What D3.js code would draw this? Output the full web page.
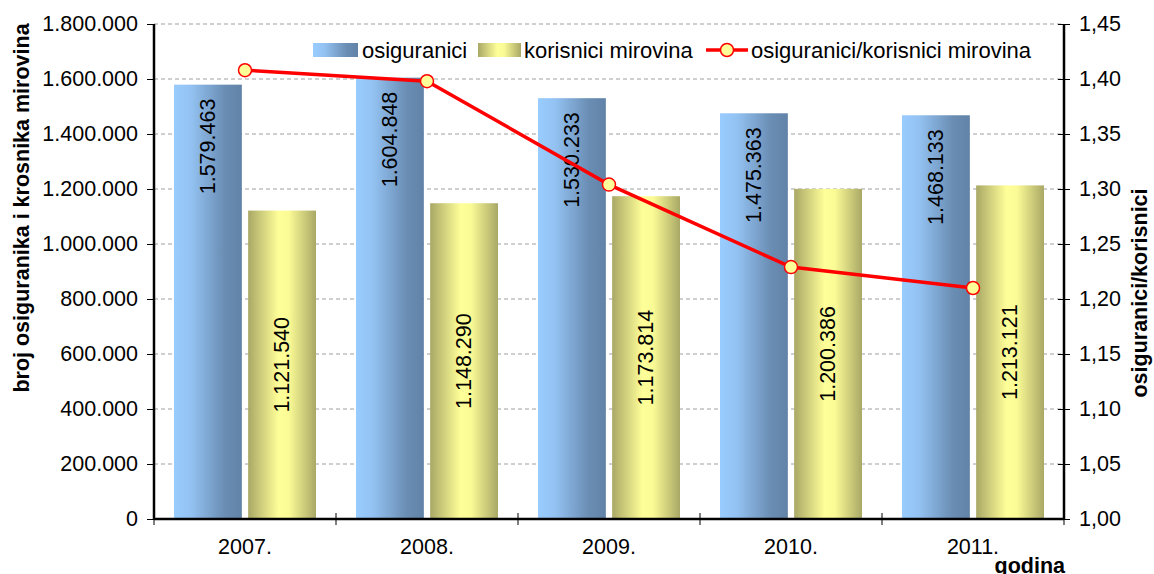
<!DOCTYPE html>
<html>
<head>
<meta charset="utf-8">
<script src="https://cdn.jsdelivr.net/npm/d3@7"></script>
<style>
  body { margin: 0; background: #fff; }
  text { font-family: "Liberation Sans", Arial, sans-serif; }
</style>
</head>
<body>
<div id="chart"></div>
<script>
  const years = ["2007.", "2008.", "2009.", "2010.", "2011."];
  const osiguranici = [1579463, 1604848, 1530233, 1475363, 1468133];
  const korisnici = [1121540, 1148290, 1173814, 1200386, 1213121];
  const omjer = [1.408, 1.398, 1.304, 1.229, 1.210];
  const seriesNames = ["osiguranici", "korisnici mirovina", "osiguranici/korisnici mirovina"];
  const leftTicks = [0, 200000, 400000, 600000, 800000, 1000000, 1200000, 1400000, 1600000, 1800000];
  const rightTicks = [1.00, 1.05, 1.10, 1.15, 1.20, 1.25, 1.30, 1.35, 1.40, 1.45];

  const hr = d3.formatLocale({ decimal: ",", thousands: ".", grouping: [3], currency: ["", ""] });
  const fmtInt = hr.format(",.0f");
  const fmtDec = hr.format(".2f");

  const svg = d3.select("#chart")
    .append("svg")
    .attr("width", 1154)
    .attr("height", 574);

  const margin = { top: 24, right: 90, bottom: 55, left: 154 };
  const width = 1154 - margin.left - margin.right;
  const height = 574 - margin.top - margin.bottom;

  // gradients
  const defs = svg.append("defs");
  const gBlue = defs.append("linearGradient").attr("id", "gBlue");
  gBlue.append("stop").attr("offset", "0%").attr("stop-color", "#99ccff");
  gBlue.append("stop").attr("offset", "25%").attr("stop-color", "#93c2f2");
  gBlue.append("stop").attr("offset", "75%").attr("stop-color", "#6a8db3");
  gBlue.append("stop").attr("offset", "100%").attr("stop-color", "#6283a8");
  const gOlive = defs.append("linearGradient").attr("id", "gOlive");
  gOlive.append("stop").attr("offset", "0%").attr("stop-color", "#a9a866");
  gOlive.append("stop").attr("offset", "45%").attr("stop-color", "#ffff99");
  gOlive.append("stop").attr("offset", "60%").attr("stop-color", "#fbfb96");
  gOlive.append("stop").attr("offset", "100%").attr("stop-color", "#a9a866");

  // scales
  const x0 = d3.scaleBand().domain(years).range([0, width]);
  const x1 = d3.scaleBand().domain([0, 1]).range([20, x0.bandwidth() - 20]).paddingInner(0.085);
  const yLeft = d3.scaleLinear().domain([0, 1800000]).range([height, 0]);
  const yRight = d3.scaleLinear().domain([1.00, 1.45]).range([height, 0]);

  const g = svg.append("g").attr("transform", `translate(${margin.left}, ${margin.top})`);

  // grid
  g.append("g")
    .selectAll("line")
    .data(leftTicks.filter(d => d > 0))
    .enter()
    .append("line")
    .attr("x1", 0)
    .attr("x2", width)
    .attr("y1", d => yLeft(d))
    .attr("y2", d => yLeft(d))
    .attr("stroke", "#a0a0a0")
    .attr("stroke-width", 1)
    .attr("stroke-dasharray", "4,3");

  // bars
  const groups = g.append("g")
    .selectAll("g")
    .data(years)
    .enter()
    .append("g")
    .attr("transform", d => `translate(${x0(d)}, 0)`);

  groups.append("rect")
    .attr("x", x1(0))
    .attr("width", x1.bandwidth())
    .attr("y", (d, i) => yLeft(osiguranici[i]))
    .attr("height", (d, i) => height - yLeft(osiguranici[i]))
    .attr("fill", "url(#gBlue)");

  groups.append("rect")
    .attr("x", x1(1))
    .attr("width", x1.bandwidth())
    .attr("y", (d, i) => yLeft(korisnici[i]))
    .attr("height", (d, i) => height - yLeft(korisnici[i]))
    .attr("fill", "url(#gOlive)");

  // bar labels
  groups.append("text")
    .attr("transform", (d, i) => `translate(${x1(0) + x1.bandwidth() / 2}, ${yLeft(osiguranici[i]) + 14}) rotate(-90)`)
    .attr("text-anchor", "end")
    .attr("dominant-baseline", "central")
    .attr("font-size", 21.5)
    .text((d, i) => fmtInt(osiguranici[i]));

  groups.append("text")
    .attr("transform", (d, i) => `translate(${x1(1) + x1.bandwidth() / 2}, ${(yLeft(korisnici[i]) + height) / 2}) rotate(-90)`)
    .attr("text-anchor", "middle")
    .attr("dominant-baseline", "central")
    .attr("font-size", 21.5)
    .text((d, i) => fmtInt(korisnici[i]));

  // axes
  const axL = g.append("g")
    .call(d3.axisLeft(yLeft).tickValues(leftTicks).tickFormat(fmtInt).tickSize(7).tickPadding(9));
  const axR = g.append("g")
    .attr("transform", `translate(${width}, 0)`)
    .call(d3.axisRight(yRight).tickValues(rightTicks).tickFormat(fmtDec).tickSize(6).tickPadding(9));
  axR.selectAll(".tick line").attr("x1", -6);
  const axB = g.append("g")
    .attr("transform", `translate(0, ${height})`)
    .call(d3.axisBottom(x0).tickSize(0).tickPadding(20));
  // category boundary ticks
  axB.selectAll(".bound")
    .data(years.slice(1))
    .enter()
    .append("line")
    .attr("x1", d => x0(d))
    .attr("x2", d => x0(d))
    .attr("y1", -6)
    .attr("y2", 6)
    .attr("stroke", "#000");
  axB.append("line").attr("x1", 0).attr("x2", 0).attr("y1", 0).attr("y2", 6).attr("stroke", "#000");
  axB.append("line").attr("x1", width).attr("x2", width).attr("y1", 0).attr("y2", 6).attr("stroke", "#000");

  [axL, axR, axB].forEach(a => {
    a.selectAll("path.domain").attr("stroke", "#000").attr("stroke-width", 2.5);
    a.selectAll("text").attr("font-size", 21.5).attr("fill", "#000").attr("font-family", "Liberation Sans, Arial, sans-serif");
    a.selectAll(".tick line").attr("stroke", "#000");
  });
  axB.select("path.domain").attr("d", `M0,0H${width}`);
  axL.select("path.domain").attr("d", `M0,0V${height}`);
  axR.select("path.domain").attr("d", `M0,0V${height}`);

  // ratio line
  const line = d3.line()
    .x((d, i) => x0(years[i]) + x0.bandwidth() / 2)
    .y(d => yRight(d));

  g.append("path")
    .datum(omjer)
    .attr("d", line)
    .attr("fill", "none")
    .attr("stroke", "#ff0000")
    .attr("stroke-width", 3.5);

  g.append("g")
    .selectAll("circle")
    .data(omjer)
    .enter()
    .append("circle")
    .attr("cx", (d, i) => x0(years[i]) + x0.bandwidth() / 2)
    .attr("cy", d => yRight(d))
    .attr("r", 6.5)
    .attr("fill", "#ffff99")
    .attr("stroke", "#ff0000")
    .attr("stroke-width", 1.5);

  // axis titles
  svg.append("text")
    .attr("transform", "translate(22, 208) rotate(-90)")
    .attr("text-anchor", "middle")
    .attr("dominant-baseline", "central")
    .attr("font-size", 21.5)
    .attr("font-weight", "bold")
    .text("broj osiguranika i krosnika mirovina");

  svg.append("text")
    .attr("transform", "translate(1140, 293) rotate(-90)")
    .attr("text-anchor", "middle")
    .attr("dominant-baseline", "central")
    .attr("font-size", 21.5)
    .attr("font-weight", "bold")
    .text("osiguranici/korisnici");

  svg.append("text")
    .attr("x", 1065)
    .attr("y", 573)
    .attr("text-anchor", "end")
    .attr("font-size", 21.5)
    .attr("font-weight", "bold")
    .text("godina");

  // legend
  const legend = svg.append("g").attr("transform", "translate(0, 50)");
  legend.append("rect").attr("x", 313).attr("y", -7).attr("width", 45).attr("height", 14).attr("fill", "url(#gBlue)");
  legend.append("text").attr("x", 362).attr("y", 0).attr("dominant-baseline", "central").attr("font-size", 22).text(seriesNames[0]);
  legend.append("rect").attr("x", 478).attr("y", -7).attr("width", 43).attr("height", 14).attr("fill", "url(#gOlive)");
  legend.append("text").attr("x", 524).attr("y", 0).attr("dominant-baseline", "central").attr("font-size", 22).text(seriesNames[1]);
  legend.append("line").attr("x1", 706).attr("x2", 748).attr("y1", 0).attr("y2", 0).attr("stroke", "#ff0000").attr("stroke-width", 3.5);
  legend.append("circle").attr("cx", 727).attr("cy", 0).attr("r", 6.5).attr("fill", "#ffff99").attr("stroke", "#ff0000").attr("stroke-width", 1.5);
  legend.append("text").attr("x", 751).attr("y", 0).attr("dominant-baseline", "central").attr("font-size", 22).text(seriesNames[2]);
</script>
</body>
</html>
